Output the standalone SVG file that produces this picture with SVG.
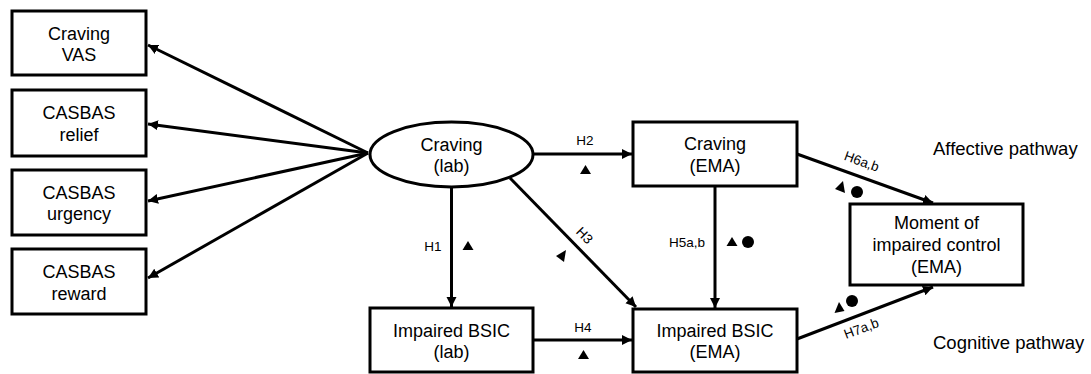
<svg xmlns="http://www.w3.org/2000/svg" width="1091" height="374" viewBox="0 0 1091 374">
<style>
.box{fill:#fff;stroke:#000;stroke-width:3}
.t{font-family:"Liberation Sans",Arial,sans-serif;font-size:18px;fill:#000;text-anchor:middle}
.lbl{font-family:"Liberation Sans",Arial,sans-serif;font-size:13.5px;fill:#000;text-anchor:middle}
.pw{font-family:"Liberation Sans",Arial,sans-serif;font-size:18.5px;fill:#000}
.c{fill:none;stroke:#000;stroke-width:3;marker-end:url(#ah)}
.m{fill:#000}
</style>
<defs>
<marker id="ah" markerUnits="userSpaceOnUse" markerWidth="11" markerHeight="11" refX="10" refY="5.5" orient="auto">
<path d="M0,0.5 L10,5.5 L0,10.5 z" fill="#000"/>
</marker>
</defs>
<rect width="1091" height="374" fill="#fff"/>
<g id="connectors">
<line class="c" x1="368" y1="153" x2="148" y2="45"/>
<line class="c" x1="368" y1="153" x2="148" y2="124"/>
<line class="c" x1="368" y1="153" x2="148" y2="201"/>
<line class="c" x1="368" y1="153" x2="148" y2="278"/>
<line class="c" x1="533" y1="154" x2="632" y2="154"/>
<line class="c" x1="451.5" y1="187" x2="451.5" y2="307"/>
<line class="c" x1="510" y1="178" x2="636" y2="307"/>
<line class="c" x1="533" y1="340" x2="632" y2="340"/>
<line class="c" x1="715" y1="186" x2="715" y2="308"/>
<line class="c" x1="797" y1="154" x2="933" y2="203"/>
<line class="c" x1="797" y1="339" x2="933" y2="287"/>
<text class="lbl" x="585" y="145">H2</text>
<polygon class="m" points="585.5,165 580,174 591,174"/>
<text class="lbl" x="433" y="251">H1</text>
<polygon class="m" points="468,241 462.5,250 473.5,250"/>
<text class="lbl" transform="translate(584,236) rotate(46)" x="0" y="4">H3</text>
<polygon class="m" points="566,250 556,256 564,262"/>
<text class="lbl" x="583" y="332">H4</text>
<polygon class="m" points="583.5,350 578,359 589,359"/>
<text class="lbl" x="687" y="247">H5a,b</text>
<polygon class="m" points="732,237 726.5,246 737.5,246"/>
<circle class="m" cx="748" cy="242" r="6"/>
<text class="lbl" transform="translate(861.5,162) rotate(20)" x="0" y="4">H6a,b</text>
<polygon class="m" points="843,181 835,189 845,193"/>
<circle class="m" cx="857" cy="192" r="6"/>
<text class="lbl" transform="translate(861.5,329) rotate(-20.5)" x="0" y="4">H7a,b</text>
<polygon class="m" points="839,302 834.5,313 844.5,311"/>
<circle class="m" cx="852" cy="301" r="6"/>
</g>
<g id="n-craving-vas">
<rect class="box" x="12" y="11" width="134" height="64"/>
<text class="t" x="79" y="39.5">Craving</text>
<text class="t" x="79" y="61">VAS</text>
</g>
<g id="n-casbas-relief">
<rect class="box" x="12" y="90" width="134" height="66"/>
<text class="t" x="79" y="119">CASBAS</text>
<text class="t" x="79" y="141">relief</text>
</g>
<g id="n-casbas-urgency">
<rect class="box" x="12" y="170" width="134" height="65"/>
<text class="t" x="79" y="199">CASBAS</text>
<text class="t" x="79" y="220">urgency</text>
</g>
<g id="n-casbas-reward">
<rect class="box" x="12" y="249" width="134" height="65"/>
<text class="t" x="79" y="278">CASBAS</text>
<text class="t" x="79" y="300">reward</text>
</g>
<g id="n-craving-lab">
<ellipse class="box" cx="451.5" cy="154.5" rx="81.5" ry="32.5"/>
<text class="t" x="451.5" y="151">Craving</text>
<text class="t" x="451.5" y="172">(lab)</text>
</g>
<g id="n-craving-ema">
<rect class="box" x="633" y="122" width="164" height="64"/>
<text class="t" x="715" y="150">Craving</text>
<text class="t" x="715" y="172">(EMA)</text>
</g>
<g id="n-bsic-lab">
<rect class="box" x="370" y="308" width="163" height="64"/>
<text class="t" x="451.5" y="337">Impaired BSIC</text>
<text class="t" x="451.5" y="358">(lab)</text>
</g>
<g id="n-bsic-ema">
<rect class="box" x="633" y="309" width="164" height="63"/>
<text class="t" x="715" y="337">Impaired BSIC</text>
<text class="t" x="715" y="358">(EMA)</text>
</g>
<g id="n-moment">
<rect class="box" x="850" y="204" width="173" height="81"/>
<text class="t" x="936.5" y="229">Moment of</text>
<text class="t" x="936.5" y="251">impaired control</text>
<text class="t" x="936.5" y="273">(EMA)</text>
</g>
<g id="pathway-labels">
<text class="pw" x="933" y="155">Affective pathway</text>
<text class="pw" x="933" y="349">Cognitive pathway</text>
</g>
</svg>
